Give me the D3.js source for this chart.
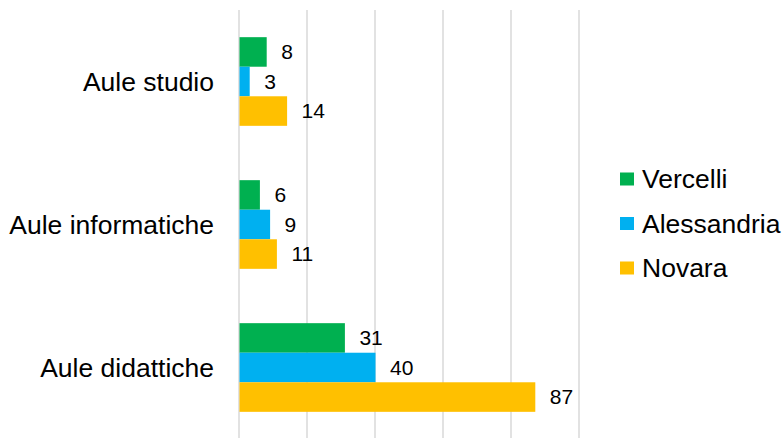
<!DOCTYPE html>
<html><head><meta charset="utf-8">
<script src="https://cdn.jsdelivr.net/npm/d3@7"></script>
<style>body{margin:0;background:#fff}svg{display:block}text{font-family:"Liberation Sans",Arial,sans-serif;fill:#000}</style>
</head><body><svg id="c" width="782" height="438"></svg>
<script>
const categories = ["Aule studio", "Aule informatiche", "Aule didattiche"];
const seriesNames = ["Vercelli", "Alessandria", "Novara"];
const vercelli = [8, 6, 31];
const alessandria = [3, 9, 40];
const novara = [14, 11, 87];
const xTicks = [0, 20, 40, 60, 80, 100];
const colors = ["#00B050", "#00B0F0", "#FFC000"];

const series = [vercelli, alessandria, novara];
const svg = d3.select("#c");
const x = d3.scaleLinear().domain([0, 100]).range([239, 579]);
const y = d3.scaleBand().domain(categories).range([10, 439]).paddingInner(0.38).paddingOuter(0.19);
const ys = d3.scaleBand().domain(seriesNames).range([0, y.bandwidth()]);

svg.append("g").selectAll("line").data(xTicks).join("line")
  .attr("x1", d => x(d)).attr("x2", d => x(d)).attr("y1", 10).attr("y2", 438)
  .attr("stroke", "#D9D9D9").attr("stroke-width", 1.5);

seriesNames.forEach((s, i) => {
  const g = svg.append("g");
  g.selectAll("rect").data(categories).join("rect")
    .attr("x", x(0) + 0.5).attr("y", c => y(c) + ys(s))
    .attr("width", (c, j) => x(series[i][j]) - x(0)).attr("height", ys.bandwidth())
    .attr("fill", colors[i]);
  g.selectAll("text").data(categories).join("text")
    .attr("x", (c, j) => x(series[i][j]) + 15).attr("y", c => y(c) + ys(s) + ys.bandwidth() / 2)
    .attr("dy", "0.35em").attr("font-size", 21)
    .text((c, j) => series[i][j]);
});

svg.append("g").selectAll("text").data(categories).join("text")
  .attr("x", 214).attr("y", c => y(c) + y.bandwidth() / 2).attr("dy", "0.35em")
  .attr("text-anchor", "end").attr("font-size", 26.5).text(c => c);

const leg = svg.append("g").selectAll("g").data(seriesNames).join("g")
  .attr("transform", (d, i) => `translate(620, ${179 + i * 44.5})`);
leg.append("rect").attr("x", 0).attr("y", -6.5).attr("width", 14).attr("height", 13).attr("fill", (d, i) => colors[i]);
leg.append("text").attr("x", 22).attr("y", 0).attr("dy", "0.35em").attr("font-size", 26.5).text(d => d);
</script></body></html>
